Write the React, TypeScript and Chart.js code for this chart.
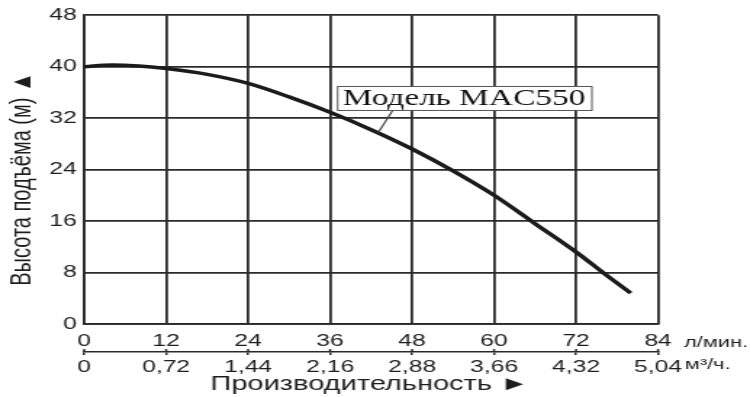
import { useEffect, useRef } from "react";
import { Chart, registerables } from "chart.js";

Chart.register(...registerables);

// ---- data ----
const flowLpm = [0, 4, 8, 12, 18, 24, 30, 36, 42, 48, 54, 60, 66, 72, 76, 80];
const headM = [40, 40.25, 40.1, 39.7, 38.8, 37.4, 35.3, 32.9, 30.2, 27.2, 23.8, 20.0, 15.6, 11.2, 7.95, 4.8];
const lpmTicks = [0, 12, 24, 36, 48, 60, 72, 84];
const m3hLabels = ["0", "0,72", "1,44", "2,16", "2,88", "3,66", "4,32", "5,04"];
const headTicks = [0, 8, 16, 24, 32, 40, 48];
const seriesLabel = "Модель MAC550";
const xTitle = "Производительность ►";
const yTitle = "Высота подъёма (м) ▲";
const xUnit = "л/мин.";
const x2Unit = "м³/ч.";
// annotation anchors in data units
const labelBoxAnchor = { x: 37.0, y: 37.0 };
const leaderStart = { x: 45.2 };
const leaderTarget = { x: 43, y: 29.7 };

const SANS = '"Liberation Sans", Arial, sans-serif';
const SERIF = '"Liberation Serif", "Times New Roman", serif';
const INK = "#1e1e1e";
const GRID = "#2a2a2a";

const overlay = {
  id: "overlay",
  afterDraw(chart: any) {
    const { ctx, chartArea, scales } = chart;
    const xs = scales.x;
    const ys = scales.y;
    const x2 = scales.x2;
    ctx.save();
    ctx.fillStyle = INK;
    // units
    ctx.font = `15px ${SANS}`;
    ctx.textBaseline = "middle";
    ctx.textAlign = "left";
    ctx.fillText(xUnit, xs.getPixelForValue(84) + 18, xs.top + 19);
    ctx.fillText(x2Unit, x2.getPixelForValue(84) + 18.5, x2.top + 13);
    // x title
    ctx.font = `20px ${SANS}`;
    ctx.textAlign = "center";
    ctx.fillText(xTitle, (chartArea.left + chartArea.right) / 2 - 1, 384);
    // y title
    ctx.save();
    ctx.translate(15, 179);
    ctx.rotate(-Math.PI / 2);
    ctx.fillText(yTitle, 0, 0);
    ctx.restore();

    // small tick marks crossing the secondary axis line (upper half)
    ctx.strokeStyle = GRID;
    ctx.lineWidth = 1.5;
    ctx.beginPath();
    lpmTicks.forEach((v) => {
      const px = x2.getPixelForValue(v);
      ctx.moveTo(px, x2.top - 3);
      ctx.lineTo(px, x2.top);
    });
    ctx.stroke();

    // annotation box
    ctx.font = `23px ${SERIF}`;
    const tw = ctx.measureText(seriesLabel).width;
    const bx = xs.getPixelForValue(labelBoxAnchor.x);
    const by = ys.getPixelForValue(labelBoxAnchor.y);
    const bw = tw + 8;
    const bh = 24;
    // leader line
    ctx.strokeStyle = "#444";
    ctx.lineWidth = 1.2;
    ctx.beginPath();
    ctx.moveTo(xs.getPixelForValue(leaderStart.x), by + bh);
    ctx.lineTo(xs.getPixelForValue(leaderTarget.x), ys.getPixelForValue(leaderTarget.y));
    ctx.stroke();
    ctx.fillStyle = "#fff";
    ctx.fillRect(bx, by, bw, bh);
    ctx.strokeStyle = "#555";
    ctx.lineWidth = 1;
    ctx.strokeRect(bx + 0.5, by + 0.5, bw, bh);
    ctx.fillStyle = "#111";
    ctx.textAlign = "left";
    ctx.textBaseline = "middle";
    ctx.fillText(seriesLabel, bx + 4, by + bh / 2 + 1);
    ctx.restore();
  },
};

export default function App() {
  const ref = useRef<HTMLCanvasElement>(null);
  useEffect(() => {
    const canvas = ref.current;
    if (!canvas) return;
    const chart = new Chart(canvas, {
      type: "line",
      data: {
        datasets: [
          {
            label: seriesLabel,
            data: flowLpm.map((x, i) => ({ x, y: headM[i] })),
            borderColor: "#1b1b1b",
            borderWidth: 3.5,
            pointRadius: 0,
            cubicInterpolationMode: "monotone",
            fill: false,
          },
        ],
      },
      options: {
        responsive: false,
        animation: false,
        devicePixelRatio: 1,
        layout: { padding: { top: 10, right: 63.4, bottom: 0, left: 0 } },
        plugins: { legend: { display: false }, tooltip: { enabled: false } },
        scales: {
          x: {
            type: "linear",
            position: "bottom",
            min: 0,
            max: 84,
            afterBuildTicks: (s: any) => {
              s.ticks = lpmTicks.map((v) => ({ value: v }));
            },
            afterFit: (s: any) => {
              s.height = 28;
            },
            grid: { color: GRID, lineWidth: 1.8, drawTicks: false },
            border: { display: true, color: GRID, width: 1.8 },
            ticks: {
              autoSkip: false,
              maxRotation: 0,
              padding: 7,
              color: INK,
              font: { family: SANS, size: 17 },
            },
          },
          x2: {
            type: "linear",
            position: "bottom",
            min: 0,
            max: 84,
            afterBuildTicks: (s: any) => {
              s.ticks = lpmTicks.map((v) => ({ value: v }));
            },
            afterFit: (s: any) => {
              s.height = 45;
            },
            grid: { drawOnChartArea: false, drawTicks: true, tickLength: 3, color: GRID, lineWidth: 1.5 },
            border: { display: true, color: GRID, width: 1.5 },
            ticks: {
              autoSkip: false,
              maxRotation: 0,
              padding: 2.5,
              color: INK,
              font: { family: SANS, size: 17 },
              callback: (v: any) => {
                const i = lpmTicks.indexOf(Number(v));
                return i >= 0 ? m3hLabels[i] : "";
              },
            },
          },
          y: {
            type: "linear",
            min: 0,
            max: 48,
            afterBuildTicks: (s: any) => {
              s.ticks = headTicks.map((v) => ({ value: v }));
            },
            afterFit: (s: any) => {
              s.width = 58;
            },
            grid: { color: GRID, lineWidth: 1.8, drawTicks: false },
            border: { display: true, color: GRID, width: 1.8 },
            ticks: {
              padding: 5,
              color: INK,
              font: { family: SANS, size: 17 },
            },
          },
        },
      },
      plugins: [overlay],
    } as any);
    return () => chart.destroy();
  }, []);

  return (
    <div style={{ position: "absolute", left: 0, top: 0, width: 750, height: 397, background: "#fff" }}>
      <canvas ref={ref} width={517} height={397} style={{ width: "750px", height: "397px", display: "block" }} />
    </div>
  );
}
